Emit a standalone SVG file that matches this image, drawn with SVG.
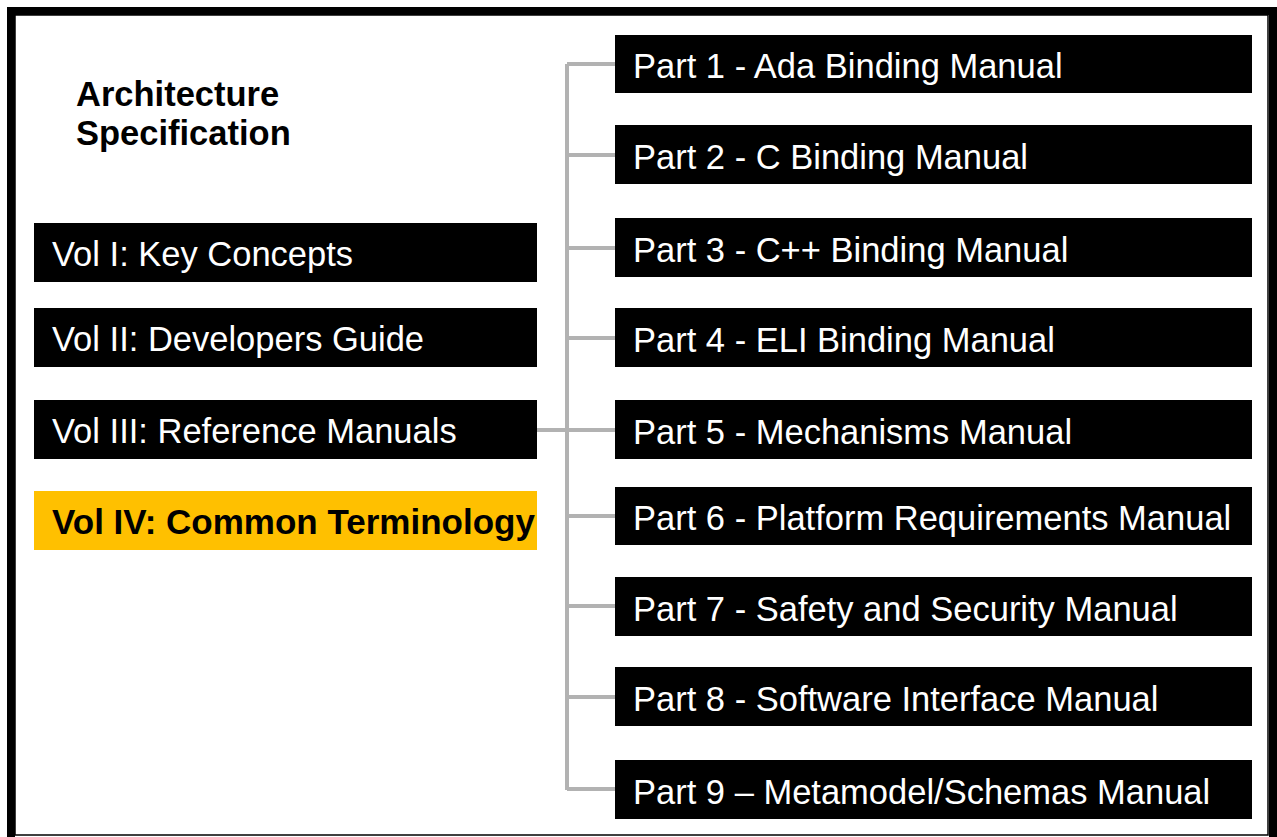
<svg xmlns="http://www.w3.org/2000/svg" width="1277" height="837" viewBox="0 0 1277 837">
<style>
.box{fill:#000}
.hl{fill:#ffc000}
.t{font-family:"Liberation Sans",Arial,sans-serif;font-size:34.5px;fill:#fff}
.tb{font-family:"Liberation Sans",Arial,sans-serif;font-size:35px;font-weight:bold;fill:#000}
.title{font-family:"Liberation Sans",Arial,sans-serif;font-size:34.5px;font-weight:bold;fill:#000}
.c{stroke:#b2b2b2;stroke-width:4;fill:none}
</style>
<rect x="0" y="0" width="1277" height="837" fill="#fff"/>
<g id="frame">
<rect x="15" y="15" width="1253" height="820" fill="none" stroke="#000" stroke-width="1.5"/>
<rect x="7" y="7" width="1270" height="8" fill="#000"/>
<rect x="7" y="7" width="8" height="830" fill="#000"/>
<rect x="1269" y="7" width="8" height="830" fill="#000"/>
</g>
<g id="connectors">
<path class="c" d="M567,64 V790"/>
<path class="c" d="M567,64 H615 M567,155 H615 M567,248 H615 M567,338 H615 M567,430 H615 M567,516 H615 M567,606 H615 M567,697 H615 M567,789 H615"/>
<path class="c" d="M537,430 H567"/>
</g>
<g id="title">
<text class="title" x="76" y="106">Architecture</text>
<text class="title" x="76" y="145">Specification</text>
</g>
<g id="vol1"><rect class="box" x="34" y="223" width="503" height="59"/><text class="t" x="52" y="266">Vol I: Key Concepts</text></g>
<g id="vol2"><rect class="box" x="34" y="308" width="503" height="59"/><text class="t" x="52" y="351">Vol II: Developers Guide</text></g>
<g id="vol3"><rect class="box" x="34" y="400" width="503" height="59"/><text class="t" x="52" y="443">Vol III: Reference Manuals</text></g>
<g id="vol4"><rect class="hl" x="34" y="491" width="503" height="59"/><text class="tb" x="52" y="534">Vol IV: Common Terminology</text></g>
<g id="part1"><rect class="box" x="615" y="35" width="637" height="58"/><text class="t" x="633" y="78">Part 1 - Ada Binding Manual</text></g>
<g id="part2"><rect class="box" x="615" y="125" width="637" height="59"/><text class="t" x="633" y="169">Part 2 - C Binding Manual</text></g>
<g id="part3"><rect class="box" x="615" y="218" width="637" height="59"/><text class="t" x="633" y="262">Part 3 - C++ Binding Manual</text></g>
<g id="part4"><rect class="box" x="615" y="308" width="637" height="59"/><text class="t" x="633" y="352">Part 4 - ELI Binding Manual</text></g>
<g id="part5"><rect class="box" x="615" y="400" width="637" height="59"/><text class="t" x="633" y="444">Part 5 - Mechanisms Manual</text></g>
<g id="part6"><rect class="box" x="615" y="487" width="637" height="58"/><text class="t" x="633" y="530">Part 6 - Platform Requirements Manual</text></g>
<g id="part7"><rect class="box" x="615" y="577" width="637" height="59"/><text class="t" x="633" y="621">Part 7 - Safety and Security Manual</text></g>
<g id="part8"><rect class="box" x="615" y="667" width="637" height="59"/><text class="t" x="633" y="711">Part 8 - Software Interface Manual</text></g>
<g id="part9"><rect class="box" x="615" y="760" width="637" height="59"/><text class="t" x="633" y="804">Part 9 – Metamodel/Schemas Manual</text></g>
</svg>
